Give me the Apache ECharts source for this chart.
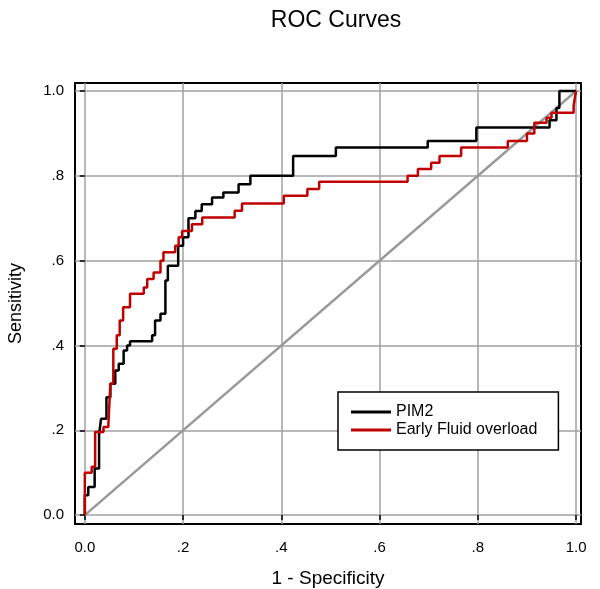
<!DOCTYPE html>
<html>
<head>
<meta charset="utf-8">
<script src="https://cdn.jsdelivr.net/npm/echarts@6/dist/echarts.min.js"></script>
<style>html,body{margin:0;padding:0;background:#fff;}#chart{width:600px;height:589px;}</style>
</head>
<body>
<div id="chart"></div>
<script>
// Tick values / labels (both axes)
var tickValues = [0, 0.2, 0.4, 0.6, 0.8, 1.0];
var tickLabels = ['0.0', '.2', '.4', '.6', '.8', '1.0'];

// PIM2 ROC points (1 - specificity, sensitivity), step corners
var pim2Fpr = [0, 0, 0.007, 0.020, 0.029, 0.033, 0.044, 0.052, 0.062, 0.069, 0.079, 0.086, 0.092, 0.137, 0.143, 0.154, 0.164, 0.169, 0.190, 0.200, 0.211, 0.225, 0.238, 0.259, 0.282, 0.313, 0.337, 0.424, 0.511, 0.698, 0.797, 0.946, 0.960, 0.966, 1.0];
var pim2Tpr = [0, 0.047, 0.066, 0.110, 0.190, 0.227, 0.278, 0.310, 0.341, 0.357, 0.388, 0.400, 0.410, 0.424, 0.459, 0.475, 0.553, 0.588, 0.635, 0.655, 0.700, 0.717, 0.733, 0.749, 0.761, 0.780, 0.800, 0.847, 0.867, 0.882, 0.914, 0.931, 0.960, 1.0, 1.0];

// Early Fluid overload ROC points
var efoFpr = [0, 0, 0.014, 0.021, 0.038, 0.048, 0.052, 0.058, 0.065, 0.071, 0.078, 0.092, 0.120, 0.127, 0.140, 0.154, 0.160, 0.184, 0.191, 0.198, 0.218, 0.239, 0.305, 0.320, 0.405, 0.453, 0.477, 0.657, 0.678, 0.705, 0.722, 0.766, 0.861, 0.900, 0.915, 0.940, 0.950, 0.995, 0.998, 1.0];
var efoTpr = [0, 0.100, 0.114, 0.196, 0.208, 0.216, 0.310, 0.392, 0.424, 0.459, 0.490, 0.522, 0.537, 0.557, 0.572, 0.600, 0.620, 0.635, 0.655, 0.670, 0.686, 0.702, 0.718, 0.735, 0.753, 0.769, 0.786, 0.800, 0.816, 0.831, 0.847, 0.867, 0.882, 0.900, 0.925, 0.937, 0.949, 0.965, 0.988, 1.0];

// Reference diagonal
var diagX = [0, 1];
var diagY = [0, 1];

function zip(a, b) { return a.map(function (v, i) { return [v, b[i]]; }); }
function fmt(v) {
  for (var i = 0; i < tickValues.length; i++) {
    if (Math.abs(tickValues[i] - v) < 1e-6) return tickLabels[i];
  }
  return '';
}

var FONT = 'Liberation Sans, Arial, sans-serif';
var chart = echarts.init(document.getElementById('chart'), null, {renderer: 'canvas'});
chart.setOption({
  animation: false,
  backgroundColor: '#fff',
  title: {
    text: 'ROC Curves',
    left: 331, top: 4, textAlign: 'center',
    textStyle: {fontFamily: FONT, fontSize: 23, fontWeight: 'normal', color: '#000'}
  },
  grid: {
    left: 75, top: 83, right: 19, bottom: 65,
    outerBoundsMode: 'none', containLabel: false,
    show: true, borderColor: '#000', borderWidth: 2, backgroundColor: 'transparent'
  },
  legend: {
    data: [{name: 'PIM2', icon: 'rect'}, {name: 'Early Fluid overload', icon: 'rect'}],
    orient: 'vertical',
    left: 338, top: 392,
    padding: [11, 21, 11, 13],
    itemGap: 0, itemWidth: 40, itemHeight: 3,
    borderColor: '#000', borderWidth: 1.5,
    backgroundColor: '#fff',
    textStyle: {fontFamily: FONT, fontSize: 16, lineHeight: 18, color: '#000'}
  },
  xAxis: {
    type: 'value', min: -0.02, max: 1.01,
    name: '1 - Specificity', nameLocation: 'middle', nameGap: 45,
    nameTextStyle: {fontFamily: FONT, fontSize: 19, color: '#000'},
    axisLine: {show: false},
    axisTick: {show: true, customValues: tickValues, length: 5, lineStyle: {color: '#000', width: 1.5}},
    axisLabel: {customValues: tickValues, formatter: fmt, margin: 16, fontFamily: FONT, fontSize: 15, color: '#000'},
    splitLine: {show: true, lineStyle: {color: '#a0a0a0', width: 1.5}}
  },
  yAxis: {
    type: 'value', min: -0.021, max: 1.019,
    name: 'Sensitivity', nameLocation: 'middle', nameGap: 50,
    nameTextStyle: {fontFamily: FONT, fontSize: 18, color: '#000'},
    axisLine: {show: false},
    axisTick: {show: true, customValues: tickValues, length: 5, lineStyle: {color: '#000', width: 1.5}},
    axisLabel: {customValues: tickValues, formatter: fmt, margin: 11, fontFamily: FONT, fontSize: 15, color: '#000'},
    splitLine: {show: true, lineStyle: {color: '#a0a0a0', width: 1.5}}
  },
  series: [
    {
      name: 'Reference', type: 'line', data: zip(diagX, diagY), symbol: 'none',
      lineStyle: {color: '#999', width: 2.5}, z: 2, silent: true
    },
    {
      name: 'PIM2', type: 'line', step: 'end', data: zip(pim2Fpr, pim2Tpr), symbol: 'none',
      color: '#000', lineStyle: {color: '#000', width: 2.5}, z: 3
    },
    {
      name: 'Early Fluid overload', type: 'line', step: 'end', data: zip(efoFpr, efoTpr), symbol: 'none',
      color: '#c00000', lineStyle: {color: '#c00000', width: 2.5}, z: 4
    }
  ]
});
</script>
</body>
</html>
